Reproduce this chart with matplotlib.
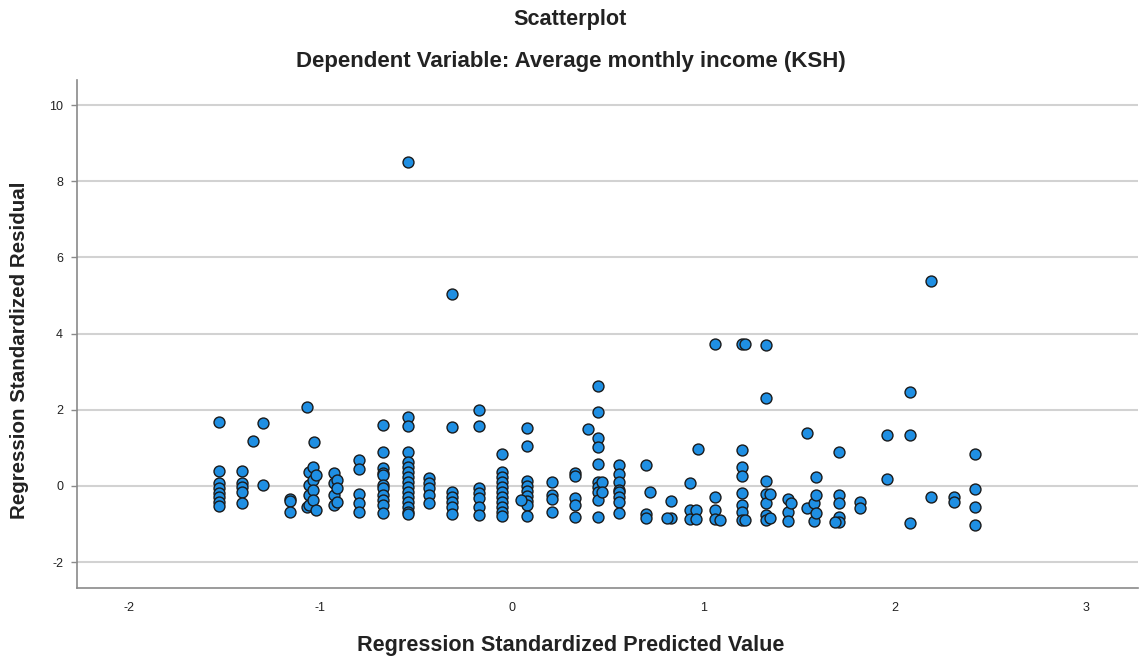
import matplotlib
matplotlib.use("Agg")
import matplotlib.pyplot as plt

# Regression standardized predicted value (x) and residual (y), grouped by column
cols = [
    (-1.53, [1.68, 0.40, 0.08, -0.05, -0.18, -0.29, -0.42, -0.52]),
    (-1.41, [0.40, 0.08, -0.03, -0.16, -0.45]),
    (-1.35, [1.18]),
    (-1.30, [1.65, 0.03]),
    (-1.16, [-0.33, -0.40, -0.68]),
    (-1.07, [2.07, -0.55]),
    (-1.03, [1.16]),
    (-1.06, [0.37, 0.03, -0.24, -0.50]),
    (-1.04, [0.50, 0.16, -0.10, -0.37]),
    (-1.02, [0.29, -0.63]),
    (-0.93, [0.34, 0.08, -0.24, -0.50]),
    (-0.91, [0.16, -0.05, -0.42]),
    (-0.80, [0.68, 0.45, -0.21, -0.45, -0.68]),
    (-0.67, [1.60, 0.89, 0.47, 0.34, 0.29, 0.03, -0.05, -0.24, -0.37, -0.50, -0.71]),
    (-0.54, [8.50, 1.81, 1.57, 0.89, 0.63, 0.50, 0.37, 0.24, 0.10, -0.03, -0.16,
             -0.29, -0.42, -0.55, -0.68, -0.73]),
    (-0.43, [0.21, 0.08, -0.05, -0.24, -0.45]),
    (-0.31, [5.04, 1.55, -0.16, -0.29, -0.42, -0.55, -0.73]),
    (-0.17, [2.00, 1.57, -0.05, -0.18, -0.31, -0.55, -0.76]),
    (-0.05, [0.84, 0.37, 0.24, 0.10, -0.03, -0.16, -0.29, -0.42, -0.55, -0.68, -0.79]),
    (0.08, [1.52, 1.05, 0.13, 0.00, -0.13, -0.26, -0.40, -0.50, -0.79]),
    (0.05, [-0.37]),
    (0.21, [0.10, -0.24, -0.34, -0.68]),
    (0.33, [0.34, 0.26, -0.31, -0.50, -0.81]),
    (0.40, [1.49]),
    (0.45, [2.62, 1.94, 1.26, 1.02, 0.58, 0.10, -0.03, -0.16, -0.37, -0.81]),
    (0.47, [0.10, -0.16]),
    (0.56, [0.55, 0.31, 0.10, -0.10, -0.16, -0.29, -0.42, -0.71]),
    (0.70, [0.55, -0.73, -0.84]),
    (0.72, [-0.16]),
    (0.83, [-0.39, -0.84]),
    (0.81, [-0.84]),
    (0.93, [0.08, -0.63, -0.87]),
    (0.96, [-0.63, -0.87]),
    (0.97, [0.97]),
    (1.06, [3.73, -0.29, -0.63, -0.87]),
    (1.09, [-0.89]),
    (1.20, [3.73, 0.94, 0.50, 0.26, -0.18, -0.50, -0.68, -0.89]),
    (1.22, [3.73, -0.89]),
    (1.33, [3.70, 2.31, 0.13, -0.21, -0.45, -0.76, -0.89]),
    (1.35, [-0.21, -0.84]),
    (1.44, [-0.34, -0.68, -0.92]),
    (1.46, [-0.45]),
    (1.54, [1.39, -0.58]),
    (1.58, [-0.45, -0.92]),
    (1.59, [0.24, -0.24, -0.71]),
    (1.71, [0.89, -0.24, -0.45, -0.81, -0.94]),
    (1.69, [-0.94]),
    (1.82, [-0.42, -0.58]),
    (1.96, [1.34, 0.18]),
    (2.08, [2.47, 1.34, -0.97]),
    (2.19, [5.38, -0.29]),
    (2.31, [-0.29, -0.42]),
    (2.42, [0.84, -0.08, -0.55, -1.02]),
]

x_vals = [cx for cx, ys in cols for _ in ys]
y_vals = [y for cx, ys in cols for y in ys]

x_ticks = [-2, -1, 0, 1, 2, 3]
y_ticks = [-2, 0, 2, 4, 6, 8, 10]

plt.rcParams['font.family'] = ['Liberation Sans', 'DejaVu Sans']

W, H = 1141, 657
fig = plt.figure(figsize=(W / 100, H / 100), dpi=100)
ax = fig.add_axes([77 / W, 1 - 588 / H, (1138 - 77) / W, (588 - 80) / H])

ax.set_xlim(-2.27, 3.27)
ax.set_ylim(-2.68, 10.66)
ax.set_xticks(x_ticks)
ax.set_yticks(y_ticks)
ax.set_xticklabels([str(t) for t in x_ticks], fontsize=9)
ax.set_yticklabels([str(t) for t in y_ticks], fontsize=9)

for t in y_ticks:
    ax.axhline(t, color='#d2d2d2', lw=1.5, zorder=1)

ax.scatter(x_vals, y_vals, s=62, c='#1f8fe3', edgecolors='#1a1a1a',
           linewidths=1.0, zorder=3)

for s in ['top', 'right']:
    ax.spines[s].set_visible(False)
for s in ['left', 'bottom']:
    ax.spines[s].set_color('#8a8a8a')
    ax.spines[s].set_linewidth(1.2)

ax.tick_params(axis='x', length=0, pad=10, colors='#222222')
ax.tick_params(axis='y', length=4, width=1, color='#8a8a8a', pad=6, labelcolor='#222222')

fig.text(0.5, 1 - 645 / H, 'Regression Standardized Predicted Value', ha='center',
         va='center', fontsize=15.6, fontweight='bold', color='#222222')
fig.text(20 / W, 1 - 350 / H, 'Regression Standardized Residual', ha='center',
         va='center', rotation=90, fontsize=14.8, fontweight='bold', color='#222222')

fig.text(0.5, 1 - 20 / H, 'Scatterplot', ha='center', va='center',
         fontsize=15.6, fontweight='bold', color='#222222')
fig.text(0.5, 1 - 62 / H, 'Dependent Variable: Average monthly income (KSH)',
         ha='center', va='center', fontsize=16, fontweight='bold', color='#222222')

fig.savefig('out.png', dpi=100)
